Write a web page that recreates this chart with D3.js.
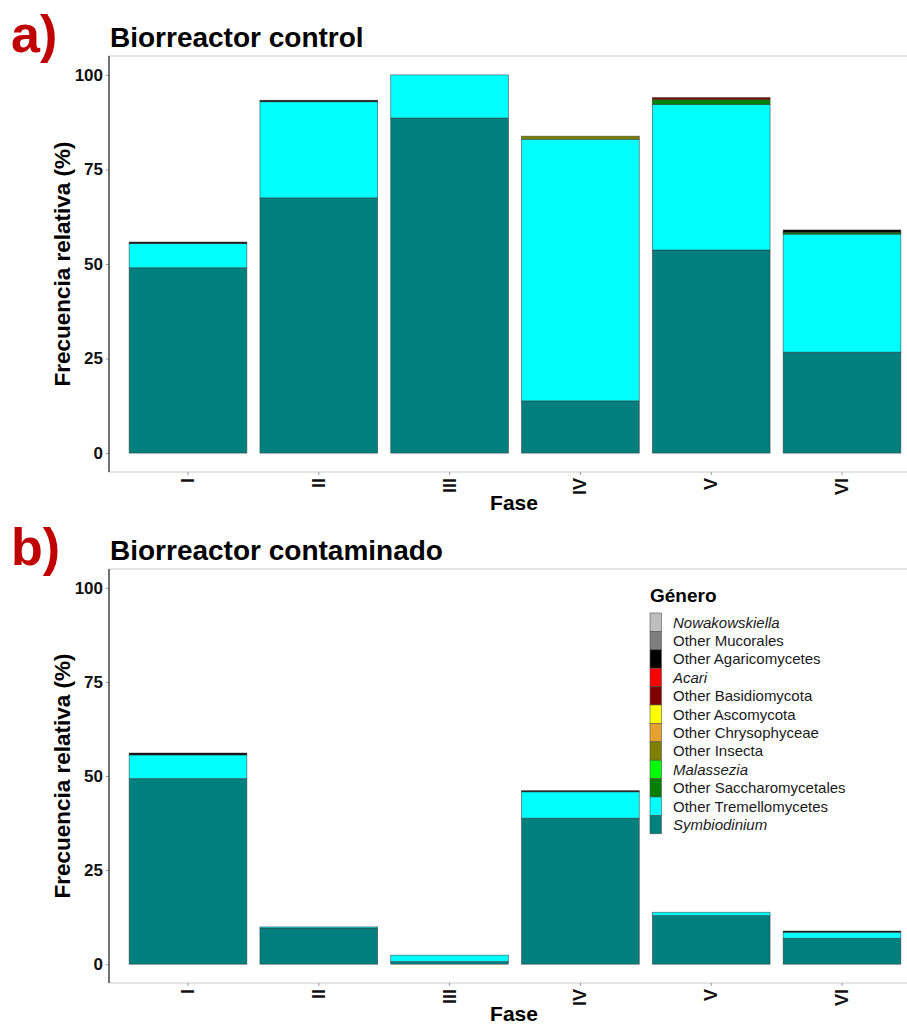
<!DOCTYPE html>
<html>
<head>
<meta charset="utf-8">
<script src="https://cdn.jsdelivr.net/npm/d3@7"></script>
<style>
  body { margin: 0; background: #fff; }
  svg { display: block; font-family: "Liberation Sans", Arial, sans-serif; }
</style>
</head>
<body>
<svg id="chart" width="907" height="1024"></svg>
<script>
// phases (x categories) and taxa (legend order, top of stack first)
const phases = ["I", "II", "III", "IV", "V", "VI"];
const taxa = ["Nowakowskiella", "Other Mucorales", "Other Agaricomycetes", "Acari",
  "Other Basidiomycota", "Other Ascomycota", "Other Chrysophyceae", "Other Insecta",
  "Malassezia", "Other Saccharomycetales", "Other Tremellomycetes", "Symbiodinium"];
const italicTaxa = ["Nowakowskiella", "Acari", "Malassezia", "Symbiodinium"];
const taxaColors = ["#bebebe", "#7f7f7f", "#000000", "#ff0000", "#800000", "#ffff00",
  "#e6a12e", "#808000", "#00ff00", "#007f00", "#00ffff", "#007f7f"];
const yTicks = [0, 25, 50, 75, 100];

// relative frequency (%) per phase, control reactor
const controlSymbiodinium   = [49.0, 67.5, 88.6, 13.8, 53.7, 26.7];
const controlTremello       = [6.4, 25.4, 11.4, 69.2, 38.5, 31.2];
const controlSaccharomyc    = [0, 0, 0, 0, 1.3, 0.5];
const controlInsecta        = [0, 0, 0, 0.8, 0, 0];
const controlBasidiomycota  = [0, 0, 0, 0, 0.5, 0];
const controlAgaricomycetes = [0.4, 0.4, 0, 0, 0, 0.6];

// relative frequency (%) per phase, contaminated reactor
const contamSymbiodinium   = [49.3, 9.6, 0.7, 38.8, 12.9, 6.9];
const contamTremello       = [6.3, 0.3, 1.7, 7.0, 0.9, 1.6];
const contamAgaricomycetes = [0.5, 0, 0, 0.3, 0, 0.3];

function buildRows(series) {
    return phases.map((p, i) => {
        let row = { phase: p };
        taxa.forEach(t => { row[t] = series[t] ? series[t][i] : 0; });
        return row;
    });
}

const controlRows = buildRows({
    "Symbiodinium": controlSymbiodinium,
    "Other Tremellomycetes": controlTremello,
    "Other Saccharomycetales": controlSaccharomyc,
    "Other Insecta": controlInsecta,
    "Other Basidiomycota": controlBasidiomycota,
    "Other Agaricomycetes": controlAgaricomycetes
});
const contamRows = buildRows({
    "Symbiodinium": contamSymbiodinium,
    "Other Tremellomycetes": contamTremello,
    "Other Agaricomycetes": contamAgaricomycetes
});

const svg = d3.select("#chart");
const color = d3.scaleOrdinal().domain(taxa).range(taxaColors);

// stack from bottom: Symbiodinium first
const stack = d3.stack().keys(taxa.slice().reverse());

const panelLeft = 109, panelRight = 921;
const x = d3.scaleBand()
    .domain(phases)
    .range([122.6, 907.4])
    .paddingInner(0.1)
    .paddingOuter(0.05);

function drawPanel(rows, tag, title, top, bottom) {
    const y = d3.scaleLinear().domain([-5, 105]).range([bottom, top]);
    const g = svg.append("g");

    // panel frame
    g.append("rect")
        .attr("x", panelLeft).attr("y", top)
        .attr("width", panelRight - panelLeft).attr("height", bottom - top)
        .attr("fill", "none").attr("stroke", "#d4d4d4").attr("stroke-width", 1.2);

    // stacked bars
    const layers = stack(rows);
    g.selectAll("g.layer")
        .data(layers)
        .join("g")
        .attr("class", "layer")
        .attr("fill", d => color(d.key))
        .selectAll("rect")
        .data(d => d.filter(s => s[1] - s[0] > 0))
        .join("rect")
        .attr("x", d => x(d.data.phase))
        .attr("width", x.bandwidth())
        .attr("y", d => y(d[1]))
        .attr("height", d => y(d[0]) - y(d[1]))
        .attr("stroke", "#3a3a3a")
        .attr("stroke-opacity", 0.75)
        .attr("stroke-width", 0.7);

    // y axis
    const yAxis = g.append("g")
        .attr("transform", `translate(${panelLeft},0)`)
        .call(d3.axisLeft(y).tickValues(yTicks).tickSize(3).tickPadding(3));
    yAxis.select(".domain").remove();
    yAxis.selectAll(".tick line").attr("stroke", "#9a9a9a");
    yAxis.selectAll(".tick text")
        .attr("font-size", 17).attr("font-weight", "bold")
        .attr("font-family", "Liberation Sans, Arial, sans-serif").attr("fill", "#111");
    g.append("line")
        .attr("x1", panelLeft).attr("x2", panelLeft)
        .attr("y1", top).attr("y2", bottom)
        .attr("stroke", "#333").attr("stroke-width", 1.3);

    // x axis
    const xAxis = g.append("g")
        .attr("transform", `translate(0,${bottom})`)
        .call(d3.axisBottom(x).tickSize(3).tickSizeOuter(0));
    xAxis.select(".domain").remove();
    xAxis.selectAll(".tick line").attr("stroke", "#9a9a9a");
    xAxis.selectAll(".tick text")
        .attr("font-size", 18).attr("font-weight", "bold")
        .attr("font-family", "Liberation Sans, Arial, sans-serif").attr("fill", "#111")
        .attr("text-anchor", "end")
        .attr("dy", null).attr("y", null)
        .attr("dominant-baseline", "central")
        .attr("transform", "translate(0,6) rotate(-90)");

    // axis titles
    g.append("text")
        .attr("x", (panelLeft + panelRight) / 2 - 1).attr("y", bottom + 38)
        .attr("text-anchor", "middle")
        .attr("font-size", 21).attr("font-weight", "bold")
        .text("Fase");
    g.append("text")
        .attr("transform", `translate(70,${(top + bottom) / 2}) rotate(-90)`)
        .attr("text-anchor", "middle")
        .attr("font-size", 22.5).attr("font-weight", "bold")
        .text("Frecuencia relativa (%)");

    // title and panel tag
    g.append("text")
        .attr("x", 110).attr("y", top - 9)
        .attr("font-size", 28).attr("font-weight", "bold")
        .text(title);
    g.append("text")
        .attr("x", 11).attr("y", top - 4)
        .attr("font-size", 52).attr("font-weight", "bold")
        .attr("fill", "#c00000")
        .text(tag);
}

drawPanel(controlRows, "a)", "Biorreactor control", 56, 472);
drawPanel(contamRows, "b)", "Biorreactor contaminado", 569, 983);

// legend
const legend = svg.append("g").attr("transform", "translate(650,0)");
legend.append("text")
    .attr("x", 0).attr("y", 602)
    .attr("font-size", 19).attr("font-weight", "bold")
    .text("Género");
const keyH = 18.4;
const item = legend.selectAll("g.item")
    .data(taxa)
    .join("g")
    .attr("class", "item")
    .attr("transform", (d, i) => `translate(0,${613 + i * keyH})`);
item.append("rect")
    .attr("width", 11.5).attr("height", keyH)
    .attr("fill", d => color(d))
    .attr("stroke", "#555").attr("stroke-width", 0.6);
item.append("text")
    .attr("x", 23).attr("y", keyH / 2)
    .attr("dominant-baseline", "central")
    .attr("font-size", 15)
    .attr("font-style", d => italicTaxa.includes(d) ? "italic" : "normal")
    .attr("fill", "#1a1a1a")
    .text(d => d);
</script>
</body>
</html>
